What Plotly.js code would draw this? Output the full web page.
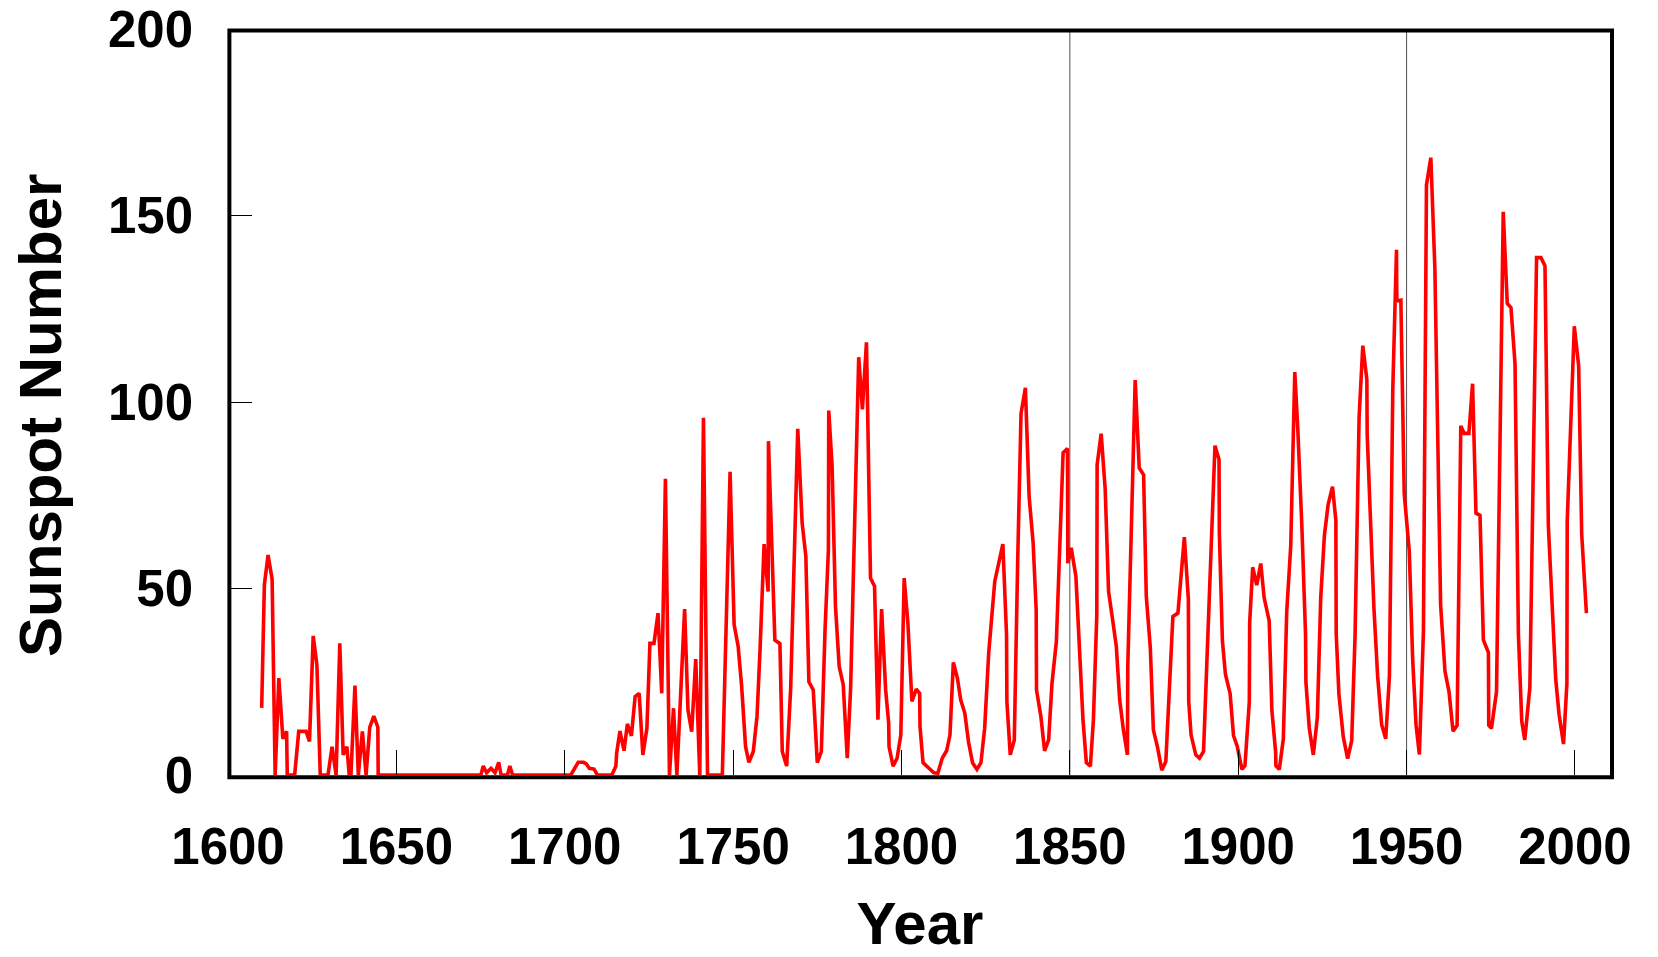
<!DOCTYPE html>
<html>
<head>
<meta charset="utf-8">
<script src="https://cdn.plot.ly/plotly-3.0.1.min.js"></script>
<style>html,body{margin:0;padding:0;background:#fff;}#chart{width:1658px;height:957px;}</style>
</head>
<body>
<div id="chart"></div>
<script>
// Year and sunspot number
const years = [
1610.0,1610.8,1611.9,1613.1,1614.0,1615.1,1616.3,1617.4,1617.6,1619.8,
1621.0,1623.2,1624.2,1625.3,1626.4,1627.4,1629.7,1630.9,1632.1,1633.2,
1634.2,1635.3,1636.0,1636.5,1637.7,1638.7,1639.9,1641.0,1642.1,1643.3,
1644.5,1644.6,1675.1,1675.8,1676.8,1678.1,1679.3,1680.4,1681.1,1683.0,
1683.7,1684.5,1701.8,1704.0,1705.6,1706.4,1707.3,1708.7,1709.7,1714.0,
1715.2,1715.4,1716.4,1717.6,1718.6,1719.8,1720.9,1722.1,1723.2,1724.4,
1725.3,1726.5,1727.7,1728.8,1729.9,1731.1,1732.3,1733.3,1735.6,1736.6,
1737.7,1738.9,1740.1,1741.2,1742.4,1746.8,1749.1,1750.3,1751.5,1752.5,
1753.7,1754.7,1756.0,1757.1,1758.0,1759.2,1760.4,1760.5,1762.4,1763.9,
1764.6,1765.9,1767.1,1768.1,1769.2,1770.5,1771.6,1772.5,1773.8,1775.0,
1776.2,1777.3,1778.3,1778.4,1779.4,1780.4,1781.5,1782.7,1783.9,1784.9,
1786.1,1787.3,1788.4,1789.6,1790.8,1792.0,1793.0,1794.1,1795.3,1796.2,
1796.3,1797.5,1798.7,1799.8,1800.8,1801.9,1803.1,1804.4,1805.4,1805.5,
1806.4,1807.6,1809.6,1810.8,1812.1,1813.4,1814.4,1815.4,1816.6,1817.6,
1818.8,1819.9,1821.1,1822.4,1823.6,1824.7,1825.9,1827.7,1828.9,1830.1,
1831.2,1831.3,1832.3,1833.5,1834.5,1835.5,1836.8,1837.9,1839.1,1840.0,
1840.1,1841.4,1842.5,1843.7,1844.7,1846.0,1848.0,1849.3,1849.4,1850.4,
1851.8,1852.9,1853.9,1854.9,1856.1,1857.0,1858.0,1858.1,1859.3,1860.5,
1861.5,1862.7,1863.8,1864.8,1865.9,1867.1,1867.2,1869.4,1870.6,1871.9,
1872.7,1873.9,1874.8,1876.0,1877.3,1878.5,1879.5,1880.6,1882.1,1884.0,
1885.2,1885.3,1886.0,1887.4,1888.5,1889.7,1893.1,1894.3,1894.4,1895.3,
1896.2,1897.6,1898.6,1899.7,1901.1,1902.0,1903.3,1903.4,1904.3,1905.5,
1906.7,1907.7,1909.2,1910.0,1911.1,1911.2,1912.2,1913.4,1914.4,1915.6,
1916.8,1917.7,1918.9,1920.0,1920.1,1921.1,1922.3,1923.5,1924.5,1925.6,
1926.7,1928.0,1929.0,1929.1,1929.9,1931.2,1932.5,1933.7,1934.7,1935.9,
1937.0,1938.2,1938.3,1939.3,1940.3,1941.4,1942.6,1943.8,1944.9,1945.9,
1947.0,1947.1,1948.3,1949.3,1950.8,1951.8,1952.8,1953.8,1955.0,1955.9,
1957.2,1958.4,1959.1,1960.1,1961.4,1962.6,1963.8,1965.0,1966.1,1967.1,
1968.5,1969.6,1970.6,1971.8,1972.8,1974.3,1974.4,1975.2,1976.7,1978.7,
1979.9,1981.0,1982.2,1983.2,1984.2,1985.1,1986.6,1988.6,1989.9,1991.1,
1992.1,1993.2,1994.3,1995.3,1996.6,1997.6,1997.7,1999.8,2001.1,2002.0,
2003.4
];
const sunspots = [
18,51,59,52.5,0,26,9.7,11.7,0,0,
11.7,11.7,9,37.3,29.5,0,0,7.6,0,35.3,
5.4,7.6,0,0,24,0,11.7,0,12.8,15.8,
12.8,0,0,2.4,0.6,1.8,0.6,3.4,0,0,
2.4,0,0,3.4,3.4,3.0,1.8,1.6,0,0,
2.4,5.8,11.8,6.5,13.7,10.5,21,21.9,5.4,12.5,
35.3,35.3,43.4,21.9,79.4,0,17.9,0,44.5,17.4,
11.6,31.1,0,95.8,0,0,81.3,40.3,34.5,24.2,
7.6,3.4,6.3,15.7,33.6,61.9,49.2,89.5,36.2,35.2,
6.3,2.4,23.3,58.6,92.8,67.6,58.6,25,22.8,3.3,
6.3,38.9,60.4,97.7,82.8,45.2,29.1,24.2,4.5,23.3,
64,112,98,116,52.8,50.6,14.8,44.5,22.8,13.9,
7.6,2.4,4.5,10.7,52.8,40.7,19.7,23,21.9,13,
3.3,2.2,0.6,0.5,4.5,6.5,10.7,30.2,26,20.1,
16.6,8.9,3.3,1.5,3.3,12.5,32.7,51.9,57.3,61.9,
37.6,19.7,5.4,9.4,56.8,96.9,103.8,74.7,62.2,44.3,
22.8,15.7,6.5,9.4,24.6,35.8,86.4,87.5,56.8,60.9,
53.2,35.3,14.8,3.3,2.4,14.8,43,83.2,91.5,76.5,
49.2,41.6,34.5,20.1,12.1,5.4,29,105.9,82.3,80.5,
47.9,34,12.1,7.6,1.3,3.6,21,42.5,43.4,63.8,
47,19.7,10.7,5.4,4.5,6.3,88.3,84.6,64.9,36,
27,21.8,10.6,7.7,1.5,2.5,19.7,40.8,55.7,50.9,
56.7,47.5,41.3,17.3,6.3,2.5,1.5,9.7,43.7,61.5,
108,92.6,66.7,37.5,25,12.6,5.4,15.4,47.5,64.3,
72.5,77.3,68.2,38,21.7,10.2,4.4,9.2,37.5,96,
115.1,106,91.2,65.8,44.7,26.5,13.5,9.7,26.5,103.2,
140.8,127.1,127.3,75.4,60,31.2,13.5,5.5,38.5,158.2,
165.5,135.9,98,45.7,27.8,22.3,11.7,13.3,93.6,91.6,
91.6,104.9,70.2,69.6,36.2,32.8,13.3,12.5,22.3,151,
126.4,125.3,110.3,37.9,14.4,9.4,23.4,138.7,138.7,136.5,
66.8,47.9,25.6,16.1,8.3,24.5,67.9,120.3,109.7,64.6,
43.4
];
const gridYears = [1850, 1950];
const xTitle = 'Year';
const yTitle = 'Sunspot Number';

const fontFamily = '"Liberation Sans", Arial, Helvetica, sans-serif';

const trace = {
  x: years, y: sunspots, type: 'scatter', mode: 'lines',
  line: {color: '#ff0000', width: 3.6},
  hoverinfo: 'x+y', showlegend: false
};

const shapes = gridYears.map(g => ({
  type: 'line', xref: 'x', yref: 'paper', x0: g, x1: g, y0: 0, y1: 1,
  line: {color: '#505050', width: 1}, layer: 'below'
}));
shapes.push({
  type: 'rect', xref: 'paper', yref: 'paper', x0: 0.001, x1: 1, y0: -0.003, y1: 0.998,
  line: {color: '#000', width: 4}, fillcolor: 'rgba(0,0,0,0)', layer: 'above'
});

const layout = {
  width: 1658, height: 957, autosize: false,
  margin: {l: 228, r: 46, t: 29, b: 182, pad: 0},
  paper_bgcolor: '#fff', plot_bgcolor: '#fff',
  font: {family: fontFamily, color: '#000'},
  showlegend: false,
  xaxis: {
    range: [1600, 2011], tickmode: 'linear', tick0: 1600, dtick: 50,
    ticks: 'inside', ticklen: 25, tickwidth: 1, tickcolor: '#000',
    showgrid: false, zeroline: false, showline: false,
    tickfont: {family: fontFamily, size: 51, color: '#000', weight: 'bold'},
    ticklabelstandoff: 37,
    title: {text: xTitle, font: {family: fontFamily, size: 60, color: '#000', weight: 'bold'}, standoff: 28},
    automargin: false
  },
  yaxis: {
    range: [0, 200], tickmode: 'linear', tick0: 0, dtick: 50,
    ticks: 'inside', ticklen: 24, tickwidth: 1, tickcolor: '#000',
    showgrid: false, zeroline: false, showline: false,
    tickfont: {family: fontFamily, size: 51, color: '#000', weight: 'bold'},
    ticklabelstandoff: 34,
    automargin: false
  },
  annotations: [{
    text: yTitle, xref: 'paper', yref: 'paper', x: -0.1355, y: 0.482,
    xanchor: 'center', yanchor: 'middle', textangle: -90, showarrow: false,
    font: {family: fontFamily, size: 60, color: '#000', weight: 'bold'}
  }],
  shapes: shapes
};

Plotly.newPlot('chart', [trace], layout, {displayModeBar: false, responsive: false, staticPlot: true});
</script>
</body>
</html>
